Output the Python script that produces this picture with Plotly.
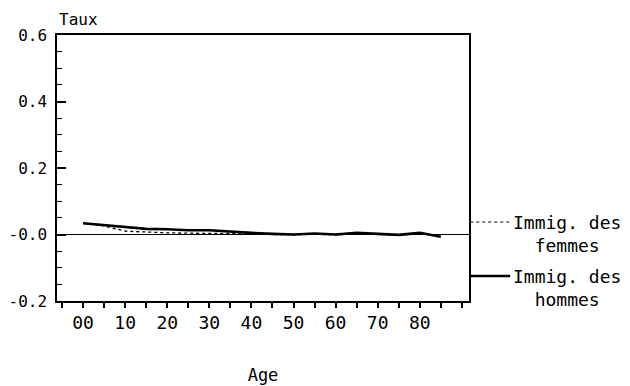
import plotly.graph_objects as go

ages = [0, 5, 10, 15, 20, 25, 30, 35, 40, 45, 50, 55, 60, 65, 70, 75, 80, 85]
hommes = [0.034, 0.028, 0.021, 0.017, 0.016, 0.013, 0.013, 0.008, 0.005, 0.002,
          0.000, 0.003, 0.000, 0.005, 0.001, -0.001, 0.005, -0.007]
femmes = [0.034, 0.026, 0.010, 0.007, 0.005, 0.004, 0.004, 0.002, 0.002, 0.000,
          -0.001, 0.001, -0.001, 0.003, 0.000, -0.002, 0.003, -0.007]

x_tickvals = [0, 10, 20, 30, 40, 50, 60, 70, 80]
x_ticktext = ["00", "10", "20", "30", "40", "50", "60", "70", "80"]
y_tickvals = [-0.2, 0.0, 0.2, 0.4, 0.6]
y_ticktext = ["-0.2", "-0.0", "0.2", "0.4", "0.6"]

FONT = "DejaVu Sans Mono"

fig = go.Figure()
fig.add_trace(go.Scatter(x=ages, y=femmes, mode="lines", name="Immig. des femmes",
                         line=dict(color="black", width=1.3, dash="dot"), showlegend=False))
fig.add_trace(go.Scatter(x=ages, y=hommes, mode="lines", name="Immig. des hommes",
                         line=dict(color="black", width=2.6), showlegend=False))

PL, PT, PW, PH = 49, 27, 412, 266
fig.update_layout(
    width=630, height=386,
    margin=dict(l=PL, r=630 - PL - PW, t=PT, b=386 - PT - PH),
    paper_bgcolor="white", plot_bgcolor="white",
    font=dict(family=FONT, color="black", size=16),
    xaxis=dict(range=[-6.2, 91.7], tickvals=x_tickvals, ticktext=x_ticktext, automargin=False,
               ticks="outside", ticklen=5, tickcolor="black", tickwidth=1.5,
               minor=dict(dtick=5, tick0=0, ticks="outside", ticklen=5, tickcolor="black", tickwidth=1.5),
               showgrid=False, zeroline=False, showline=True, linecolor="black", linewidth=1.5,
               mirror=True, tickfont=dict(size=18, family=FONT),
               title=dict(text="Age", font=dict(size=17, family=FONT), standoff=37)),
    yaxis=dict(range=[-0.2, 0.6], tickvals=y_tickvals, ticktext=y_ticktext, automargin=False,
               ticks="inside", ticklen=9, tickcolor="black", tickwidth=1.5,
               minor=dict(dtick=0.05, tick0=0, ticks="inside", ticklen=5, tickcolor="black", tickwidth=1.2),
               showgrid=False, zeroline=True, zerolinecolor="black", zerolinewidth=1.2,
               showline=True, linecolor="black", linewidth=1.5, mirror=True,
               tickfont=dict(size=16, family=FONT), ticklabelstandoff=5),
)

# axis caption
fig.add_annotation(text="Taux", xref="paper", yref="paper", x=0.0, y=1.0,
                   xanchor="left", yanchor="bottom", showarrow=False, yshift=4, xshift=0,
                   font=dict(size=16, family=FONT))

# legend (drawn as shapes and text beside the plot)
leg = [("Immig. des<br>femmes", "dot", 1.0, 222), ("Immig. des<br>hommes", "solid", 2.6, 276)]
for text, dash, w, ypx in leg:
    yp = 1 - (ypx - 8 - PT) / PH
    fig.add_shape(type="line", xref="paper", yref="paper", x0=1.003, x1=1.1,
                  y0=yp, y1=yp, line=dict(color="black", width=w, dash=dash))
    fig.add_annotation(text=text, xref="paper", yref="paper", x=1.237, y=yp,
                       xanchor="center", yanchor="top", yshift=12, showarrow=False,
                       align="center", font=dict(size=18, family=FONT))

fig.write_html("out.html")
